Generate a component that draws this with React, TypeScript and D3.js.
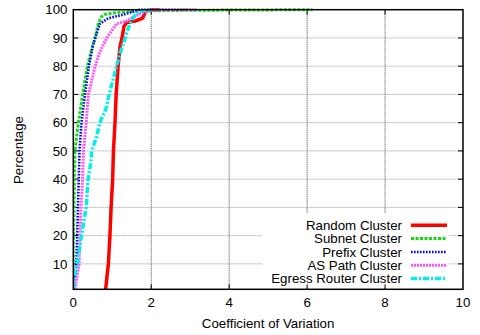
import React from "react";
import * as d3 from "d3";

const W = 480;
const H = 335;

const xTicks = [0, 2, 4, 6, 8, 10];
const yTicks = [10, 20, 30, 40, 50, 60, 70, 80, 90, 100];

const randomCluster: [number, number][] = [
  [0.83, 1], [0.86, 5], [0.9, 10], [0.94, 20], [0.97, 30], [1.01, 40], [1.03, 50],
  [1.07, 60], [1.1, 70], [1.15, 80], [1.2, 87], [1.25, 90], [1.3, 94], [1.37, 95.5],
  [1.6, 96], [1.78, 97], [1.86, 99.5], [2.0, 100], [2.2, 100],
];
const subnetCluster: [number, number][] = [
  [0, 1], [0, 16], [0.02, 30], [0.03, 40], [0.04, 50], [0.13, 60], [0.24, 70],
  [0.36, 80], [0.47, 86], [0.56, 90], [0.64, 95], [0.72, 97.5], [0.8, 98.3],
  [1.0, 98.8], [1.4, 99.3], [2.0, 99.6], [3.0, 99.8], [6.14, 100],
];
const prefixCluster: [number, number][] = [
  [0.01, 1], [0.05, 5], [0.08, 10], [0.1, 20], [0.12, 30], [0.14, 40], [0.16, 50],
  [0.21, 60], [0.3, 70], [0.4, 80], [0.5, 87], [0.56, 90], [0.68, 95], [0.9, 97],
  [1.3, 98.3], [1.7, 100], [2.95, 100],
];
const asPathCluster: [number, number][] = [
  [0.04, 1], [0.15, 10], [0.17, 20], [0.2, 30], [0.24, 40], [0.26, 50], [0.33, 60],
  [0.39, 70], [0.56, 80], [0.68, 85], [0.86, 90], [1.11, 95], [1.37, 96],
  [1.54, 97.5], [1.8, 99], [2.0, 100], [3.16, 100],
];
const egressCluster: [number, number][] = [
  [0, 1.5], [0.02, 5], [0.1, 10], [0.21, 20], [0.33, 30], [0.38, 40], [0.45, 46],
  [0.47, 50], [0.6, 55], [0.68, 60], [0.84, 65], [0.92, 70], [1.11, 80], [1.21, 85],
  [1.33, 90], [1.45, 95], [1.58, 98], [1.7, 99.5], [2.0, 100],
];

const seriesNames = [
  "Random Cluster",
  "Subnet Cluster",
  "Prefix Cluster",
  "AS Path Cluster",
  "Egress Router Cluster",
];
const seriesData = [randomCluster, subnetCluster, prefixCluster, asPathCluster, egressCluster];
const seriesStyle = [
  { color: "#ff0000", width: 3.5, dash: "" },
  { color: "#11dd11", width: 3, dash: "3,1.5" },
  { color: "#0000ff", width: 2.6, dash: "1.6,1.4" },
  { color: "#ff55ff", width: 3, dash: "2,1" },
  { color: "#00eeee", width: 3.5, dash: "6,2,2,2" },
];

const L = 73.3, R = 463, T = 9.7, B = 289.3;
const FONT = "'Liberation Sans', Arial, Helvetica, sans-serif";

export default function App() {
  const x = d3.scaleLinear().domain([0, 10]).range([L, R]);
  const y = d3.scaleLinear().domain([1, 100]).range([B, T]);
  const line = d3.line<[number, number]>().x((d) => x(d[0])).y((d) => y(d[1]));

  const key = { left: 262, right: 449, top: 213, bottom: 287 };
  const rowBase = [230, 243.3, 256.7, 270, 283.3];

  return (
    <svg width={W} height={H} style={{ position: "absolute", left: 0, top: 0, background: "#fff" }}
      fontFamily={FONT}>
      <defs>
        <clipPath id="plotclip">
          <rect x={L} y={T - 3} width={R - L} height={B - T + 3} />
        </clipPath>
      </defs>
      <rect x={0} y={0} width={W} height={H} fill="#fff" />
      {/* grid */}
      {yTicks.filter((t) => t < 100).map((t) => (
        <line key={"gy" + t} x1={L} x2={R} y1={y(t)} y2={y(t)} stroke="#999" strokeWidth={1} strokeDasharray="1,1" />
      ))}
      {xTicks.filter((t) => t > 0 && t < 10).map((t) => (
        <line key={"gx" + t} x1={x(t)} x2={x(t)} y1={T} y2={B} stroke="#444" strokeWidth={1} strokeDasharray="1,1" />
      ))}
      {/* key area blanks grid */}
      <rect x={key.left} y={key.top} width={key.right - key.left} height={key.bottom - key.top} fill="#fff" />
      {/* ticks */}
      {yTicks.filter((t) => t < 100).map((t) => (
        <g key={"ty" + t}>
          <line x1={L} x2={L + 5} y1={y(t)} y2={y(t)} stroke="#000" strokeWidth={1} />
          <line x1={R - 5} x2={R} y1={y(t)} y2={y(t)} stroke="#000" strokeWidth={1} />
        </g>
      ))}
      {xTicks.filter((t) => t > 0 && t < 10).map((t) => (
        <g key={"tx" + t}>
          <line x1={x(t)} x2={x(t)} y1={B} y2={B - 5} stroke="#000" strokeWidth={1} />
          <line x1={x(t)} x2={x(t)} y1={T} y2={T + 5} stroke="#000" strokeWidth={1} />
        </g>
      ))}
      {/* curves */}
      <g clipPath="url(#plotclip)">
        {seriesData.map((d, i) => (
          <path key={"s" + i} d={line(d) || ""} fill="none" stroke={seriesStyle[i].color}
            strokeWidth={seriesStyle[i].width} strokeDasharray={seriesStyle[i].dash || undefined}
            strokeLinejoin="round" />
        ))}
      </g>
      {/* border */}
      <rect x={L} y={T} width={R - L} height={B - T} fill="none" stroke="#000" strokeWidth={1.5} />
      {/* tick labels */}
      {yTicks.map((t) => (
        <text key={"ly" + t} x={67.5} y={y(t) + 4.7} textAnchor="end" fontSize={13.3} fill="#000">{t}</text>
      ))}
      {xTicks.map((t) => (
        <text key={"lx" + t} x={x(t)} y={307} textAnchor="middle" fontSize={13.3} fill="#000">{t}</text>
      ))}
      <text x={(L + R) / 2} y={328} textAnchor="middle" fontSize={13.3} fill="#000">Coefficient of Variation</text>
      <text transform={`translate(23.3,150) rotate(-90)`} textAnchor="middle" fontSize={13.3} fill="#000">Percentage</text>
      {/* key */}
      {seriesNames.map((n, i) => (
        <g key={"k" + i}>
          <text x={402} y={rowBase[i]} textAnchor="end" fontSize={13.3} fill="#000">{n}</text>
          <line x1={411} x2={447} y1={rowBase[i] - 4.7} y2={rowBase[i] - 4.7} stroke={seriesStyle[i].color}
            strokeWidth={seriesStyle[i].width} strokeDasharray={seriesStyle[i].dash || undefined} />
        </g>
      ))}
    </svg>
  );
}
